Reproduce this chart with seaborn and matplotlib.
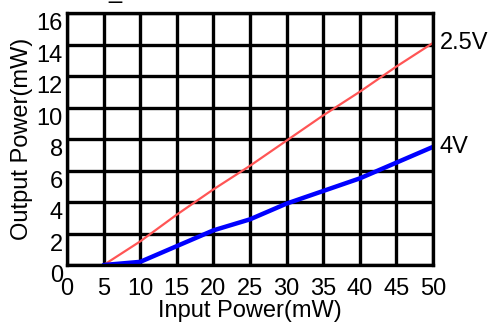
import numpy as np
import pandas as pd
import matplotlib
matplotlib.use("Agg")
import matplotlib.pyplot as plt
import seaborn as sns

# Data
input_power = [5, 10, 15, 20, 25, 30, 35, 40, 45, 50]
out_25v = [0, 1.5, 3.2, 4.8, 6.3, 7.9, 9.5, 11.0, 12.6, 14.1]
out_4v = [0, 0.2, 1.2, 2.2, 2.9, 3.9, 4.7, 5.5, 6.5, 7.5]
series_names = ["2.5V", "4V"]
x_ticks = list(range(0, 55, 5))
y_ticks = list(range(0, 18, 2))

df = pd.DataFrame({
    "Input Power": input_power * 2,
    "Output Power": out_25v + out_4v,
    "Series": [series_names[0]] * len(input_power) + [series_names[1]] * len(input_power),
})

sns.set_style("white")
plt.rcParams["font.family"] = ["Liberation Sans", "DejaVu Sans"]
plt.rcParams["text.color"] = "black"
plt.rcParams["axes.labelcolor"] = "black"

fig = plt.figure(figsize=(4.95, 3.22), dpi=100)
ax = fig.add_axes([0.1354, 0.177, 0.7393, 0.7826])

sns.lineplot(data=df[df["Series"] == "2.5V"], x="Input Power", y="Output Power",
             color="#ff5555", linewidth=1.6, ax=ax)
sns.lineplot(data=df[df["Series"] == "4V"], x="Input Power", y="Output Power",
             color="#0000ff", linewidth=3.2, ax=ax)

ax.set_xlim(0, 50)
ax.set_ylim(0, 16)
ax.set_xticks(x_ticks)
ax.set_yticks(y_ticks)
ax.grid(True, color="black", linewidth=2.4)
ax.set_axisbelow(True)
ax.tick_params(length=0, labelsize=17, colors="black", labelcolor="black")
ax.tick_params(axis="x", pad=9)
ax.tick_params(axis="y", pad=3)
for lbl in ax.get_yticklabels():
    lbl.set_verticalalignment("top")
for s in ax.spines.values():
    s.set_color("black")
    s.set_linewidth(2.4)

ax.set_xlabel("Input Power(mW)", fontsize=17, color="black")
ax.set_ylabel("Output Power(mW)", fontsize=17, color="black")
ax.yaxis.set_label_coords(-0.093, 0.5)
ax.xaxis.set_label_coords(0.5, -0.14)

# end labels
ax.annotate(series_names[0], xy=(input_power[-1], out_25v[-1]), xytext=(5, 0),
            textcoords="offset points", va="center", ha="left", fontsize=17,
            color="black", annotation_clip=False)
ax.annotate(series_names[1], xy=(input_power[-1], out_4v[-1]), xytext=(5, 0),
            textcoords="offset points", va="center", ha="left", fontsize=17,
            color="black", annotation_clip=False)

fig.text(0.233, 1.005, "_", ha="center", va="baseline", fontsize=17, color="black")

fig.savefig("out.png", dpi=100)
